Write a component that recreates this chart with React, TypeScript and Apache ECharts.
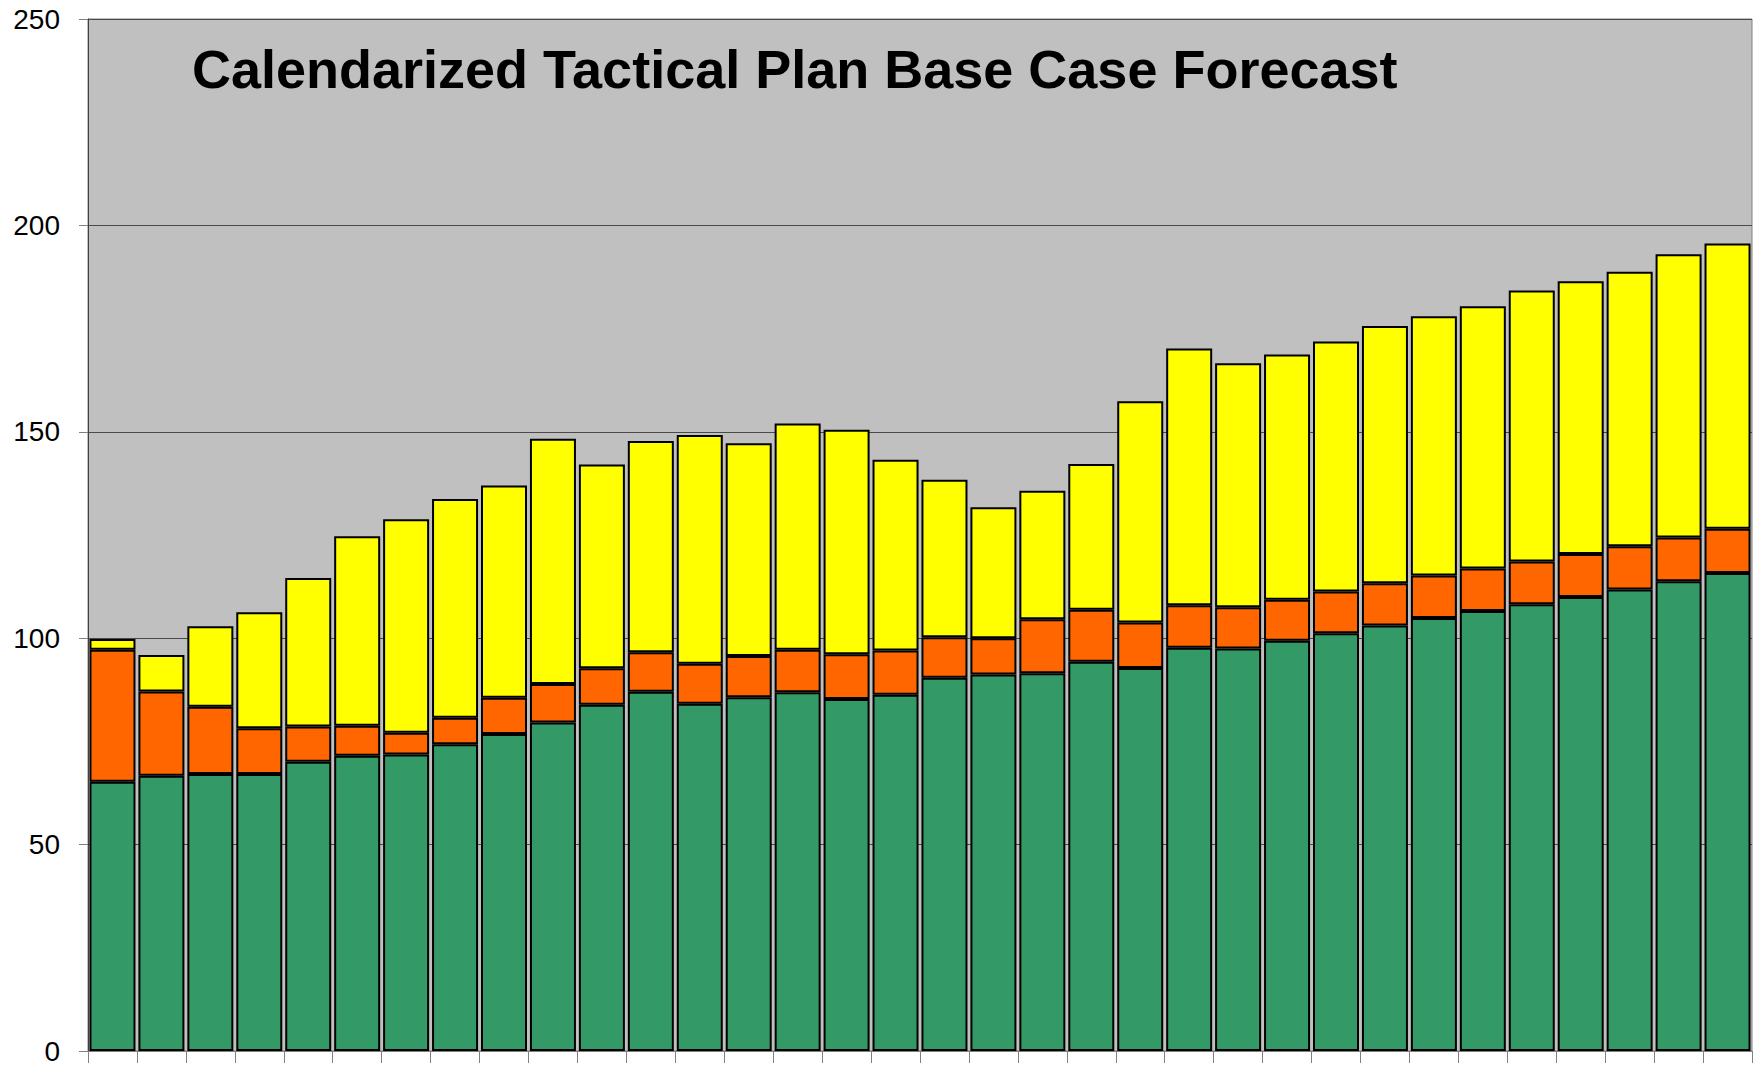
import React, { useEffect, useRef } from "react";
import * as echarts from "echarts";

const titleText = "Calendarized Tactical Plan Base Case Forecast";

const categories: string[] = Array.from({ length: 34 }, (_, i) => String(i + 1));

const greenValues = [
  65.2, 66.7, 67.1, 67.1, 70.1, 71.5, 71.8, 74.3, 76.8, 79.6, 83.9, 87.0,
  84.1, 85.7, 86.9, 85.3, 86.3, 90.4, 91.2, 91.5, 94.3, 92.8, 97.7, 97.5,
  99.4, 101.2, 103.1, 104.9, 106.6, 108.2, 110.0, 111.8, 113.8, 115.8,
];

const orangeValues = [
  32.0, 20.4, 16.3, 11.1, 8.5, 7.3, 5.3, 6.4, 8.8, 9.3, 8.8, 9.6,
  9.7, 10.0, 10.3, 10.8, 10.7, 9.8, 8.8, 13.1, 12.6, 11.0, 10.3, 10.0,
  9.9, 10.1, 10.2, 10.3, 10.3, 10.4, 10.4, 10.5, 10.6, 10.7,
];

const yellowValues = [
  2.6, 8.8, 19.5, 28.1, 36.0, 45.9, 51.7, 53.0, 51.4, 59.4, 49.4, 51.2,
  55.4, 51.5, 54.8, 54.4, 46.2, 38.2, 31.7, 31.1, 35.3, 53.6, 62.2, 59.1,
  59.4, 60.6, 62.3, 62.8, 63.5, 65.6, 66.1, 66.5, 68.6, 69.1,
];

const yTicks = { min: 0, max: 250, interval: 50 };

const seriesDefs = [
  { name: "Series 1", data: greenValues, color: "#339966" },
  { name: "Series 2", data: orangeValues, color: "#FF6600" },
  { name: "Series 3", data: yellowValues, color: "#FFFF00" },
];

export default function App() {
  const ref = useRef<HTMLDivElement>(null);

  useEffect(() => {
    if (!ref.current) return;
    const chart = echarts.init(ref.current, null, { renderer: "svg" });
    const font = "'Liberation Sans', Arial, Helvetica, sans-serif";
    chart.setOption({
      animation: false,
      backgroundColor: "#FFFFFF",
      title: {
        text: titleText,
        left: 192,
        top: 42,
        padding: 0,
        textStyle: {
          fontFamily: font,
          fontSize: 54,
          fontWeight: "bold",
          color: "#000000",
        },
      },
      grid: {
        left: 88,
        right: 8,
        top: 19,
        bottom: 12,
        show: true,
        backgroundColor: "#C0C0C0",
        borderColor: "#808080",
        borderWidth: 1,
      },
      xAxis: {
        type: "category",
        data: categories,
        axisLine: { show: true, lineStyle: { color: "#808080", width: 1 } },
        axisTick: { show: true, length: 12, lineStyle: { color: "#808080" } },
        axisLabel: { show: false },
        splitLine: { show: false },
      },
      yAxis: {
        type: "value",
        min: yTicks.min,
        max: yTicks.max,
        interval: yTicks.interval,
        axisLine: { show: true, lineStyle: { color: "#404040", width: 1 } },
        axisTick: { show: true, length: 9, lineStyle: { color: "#808080" } },
        axisLabel: {
          margin: 28,
          fontFamily: font,
          fontSize: 28,
          color: "#000000",
        },
        splitLine: { show: true, lineStyle: { color: "#4a4a4a", width: 1 } },
      },
      series: seriesDefs.map((s) => ({
        name: s.name,
        type: "bar",
        stack: "total",
        data: s.data,
        barCategoryGap: "6%",
        itemStyle: {
          color: s.color,
          borderColor: "#000000",
          borderWidth: 2,
        },
      })),
    });
    return () => chart.dispose();
  }, []);

  return (
    <div
      ref={ref}
      style={{ position: "fixed", left: 0, top: 0, width: 1760, height: 1065 }}
    />
  );
}
